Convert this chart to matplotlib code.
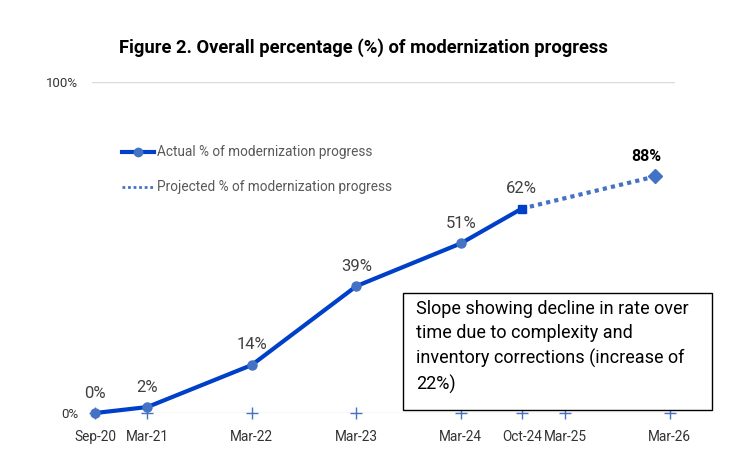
import matplotlib.pyplot as plt
from matplotlib.lines import Line2D
from matplotlib.patches import Rectangle

plt.rcParams['font.family'] = ['Roboto', 'DejaVu Sans']

# months counted from Sep-20
tick_months = [0, 6, 18, 30, 42, 49, 54, 66]
tick_labels = ['Sep-20', 'Mar-21', 'Mar-22', 'Mar-23', 'Mar-24', 'Oct-24', 'Mar-25', 'Mar-26']

actual_months = [0, 6, 18, 30, 42, 49]
actual_values = [0, 1.8, 14.5, 38.3, 51.2, 61.7]
actual_labels = ['0%', '2%', '14%', '39%', '51%', '62%']

proj_months = [49, 64.3]
proj_values = [61.7, 71.4]
proj_label = '88%'

dark_blue = '#0040C8'
light_blue = '#4472C4'

fig = plt.figure(figsize=(7.47, 4.67), dpi=100)
ax = fig.add_axes([0.1232, 0.1156, 0.7805, 0.7094])

# baseline + markers at each date
ax.plot(tick_months, [0] * len(tick_months), linestyle='none', marker='+',
        color=light_blue, markersize=8, markeredgewidth=1, clip_on=False, zorder=2)

ax.plot(proj_months, proj_values, color=light_blue, lw=3, dashes=(1, 1),
        dash_capstyle='butt', zorder=3)
ax.plot(proj_months[-1], proj_values[-1], marker='D', color=light_blue,
        markersize=7, zorder=4)

ax.plot(actual_months, actual_values, color=dark_blue, lw=3, zorder=4,
        solid_capstyle='butt', clip_on=False)
ax.plot(actual_months[:-1], actual_values[:-1], linestyle='none', marker='o',
        color=light_blue, markersize=6.5, zorder=5, clip_on=False)
ax.plot(actual_months[-1], actual_values[-1], linestyle='none', marker='s',
        color=dark_blue, markersize=6, zorder=5)

for m, v, t in zip(actual_months, actual_values, actual_labels):
    ax.annotate(t, (m, v), xytext=(0, 9), textcoords='offset points',
                ha='center', va='bottom', fontsize=12, color='#404040')
ax.annotate(proj_label, (proj_months[-1], proj_values[-1]), xytext=(-6, 9),
            textcoords='offset points', ha='center', va='bottom',
            fontsize=11.5, color='black', fontweight='bold')

ax.set_xlim(-0.35, 66.6)
ax.set_ylim(0, 100)
ax.set_xticks(tick_months)
ax.set_xticklabels(tick_labels, fontsize=9.8, color='#333333')
ax.set_yticks([0, 100])
ax.set_yticklabels(['0%', '100%'], fontsize=9.5, color='#333333')
ax.tick_params(length=0, pad=12)
ax.tick_params(axis='y', pad=10)
for s in ax.spines.values():
    s.set_visible(False)
ax.axhline(100, color='#d9d9d9', lw=1, zorder=1)
ax.axhline(0, color='#d9d9d9', lw=1, zorder=1)

fig.text(0.486, 0.897, 'Figure 2. Overall percentage (%) of modernization progress',
         ha='center', va='center', fontsize=13.2, fontweight='bold', color='black')

handles = [
    Line2D([], [], color=dark_blue, lw=3, marker='o', markerfacecolor=light_blue,
           markeredgecolor=light_blue, markersize=6),
    Line2D([], [], color=light_blue, lw=2, dashes=(1, 1)),
]
ax.legend(handles, ['Actual % of modernization progress',
                    'Projected % of modernization progress'],
          loc='upper left', bbox_to_anchor=(0.03, 0.845), frameon=False,
          fontsize=9.8, labelcolor='#595959', handlelength=2.4, handletextpad=0.2,
          labelspacing=1.55)

# annotation box
W, H = 747, 467
fig.patches.append(Rectangle((403 / W, 1 - 410 / H), 309 / W, 117 / H,
                             transform=fig.transFigure, facecolor='white',
                             edgecolor='black', lw=1, zorder=10))
fig.text(416 / W, 1 - 300 / H,
         'Slope showing decline in rate over\ntime due to complexity and\n'
         'inventory corrections (increase of\n22%)',
         ha='left', va='top', fontsize=13, color='black', linespacing=1.45,
         zorder=11)

fig.savefig('out.png', dpi=100)
